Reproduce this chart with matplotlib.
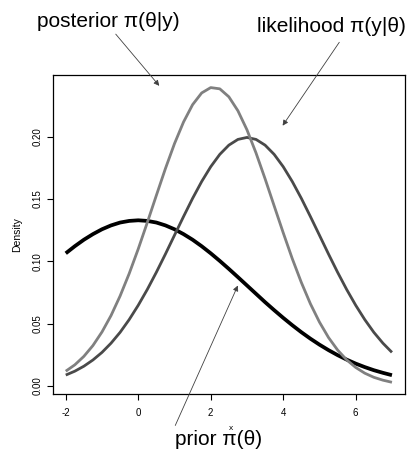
import matplotlib
matplotlib.use("Agg")
import matplotlib.pyplot as plt

plt.rcParams['font.family'] = ['Liberation Sans', 'DejaVu Sans']

# theta grid and the three density curves
theta = [-2.0, -1.75, -1.5, -1.25, -1.0, -0.75, -0.5, -0.25, 0.0, 0.25, 0.5, 0.75,
         1.0, 1.25, 1.5, 1.75, 2.0, 2.25, 2.5, 2.75, 3.0, 3.25, 3.5, 3.75,
         4.0, 4.25, 4.5, 4.75, 5.0, 5.25, 5.5, 5.75, 6.0, 6.25, 6.5, 6.75, 7.0]

prior = [0.1065, 0.1122, 0.1174, 0.1219, 0.1258, 0.1289, 0.1312, 0.1325, 0.1330,
         0.1325, 0.1312, 0.1289, 0.1258, 0.1219, 0.1174, 0.1122, 0.1065, 0.1004,
         0.0940, 0.0874, 0.0807, 0.0740, 0.0673, 0.0609, 0.0547, 0.0488, 0.0432,
         0.0380, 0.0332, 0.0288, 0.0248, 0.0212, 0.0180, 0.0152, 0.0127, 0.0106, 0.0087]

likelihood = [0.0088, 0.0119, 0.0159, 0.0209, 0.0270, 0.0344, 0.0431, 0.0533, 0.0648,
              0.0775, 0.0913, 0.1059, 0.1210, 0.1360, 0.1506, 0.1641, 0.1760, 0.1859,
              0.1933, 0.1979, 0.1995, 0.1979, 0.1933, 0.1859, 0.1760, 0.1641, 0.1506,
              0.1360, 0.1210, 0.1059, 0.0913, 0.0775, 0.0648, 0.0533, 0.0431, 0.0344, 0.0270]

posterior = [0.0119, 0.0170, 0.0238, 0.0325, 0.0434, 0.0566, 0.0723, 0.0902, 0.1100,
             0.1312, 0.1530, 0.1745, 0.1945, 0.2119, 0.2258, 0.2352, 0.2395, 0.2385,
             0.2321, 0.2209, 0.2056, 0.1870, 0.1663, 0.1446, 0.1230, 0.1022, 0.0831,
             0.0660, 0.0513, 0.0389, 0.0289, 0.0210, 0.0149, 0.0103, 0.0070, 0.0047, 0.0030]

fig = plt.figure(figsize=(4.09, 4.57), dpi=100)
W, H = 409.0, 457.0
ax = fig.add_axes([52.7 / W, 1 - 394 / H, (405 - 52.7) / W, (394 - 75) / H])

ax.plot(theta, prior, color='black', lw=2.7, solid_capstyle='butt')
ax.plot(theta, likelihood, color='#4a4a4a', lw=2.0, solid_capstyle='butt')
ax.plot(theta, posterior, color='#808080', lw=2.0, solid_capstyle='butt')

ax.set_xlim(-2.36, 7.36)
ax.set_ylim(-0.0064, 0.2496)
ax.set_xticks([-2, 0, 2, 4, 6])
ax.set_xticklabels(['-2', '0', '2', '4', '6'])
ax.set_yticks([0.0, 0.05, 0.10, 0.15, 0.20])
ax.set_yticklabels(['0.00', '0.05', '0.10', '0.15', '0.20'], rotation=90, va='center')
ax.tick_params(axis='both', direction='out', length=4, width=0.8, labelsize=7)
ax.tick_params(axis='x', pad=6)
ax.tick_params(axis='y', pad=3)
for s in ax.spines.values():
    s.set_linewidth(0.9)
ax.set_ylabel('Density', fontsize=7.5, labelpad=8)

# arrows (data coords, pointing at the curves)
arrow = dict(arrowstyle='-|>', color='#404040', lw=0.6, mutation_scale=8)
ax.annotate('', xy=(0.63, 0.2392), xytext=(-0.67, 0.2841), arrowprops=arrow,
            annotation_clip=False)
ax.annotate('', xy=(3.94, 0.2071), xytext=(5.59, 0.2777), arrowprops=arrow,
            annotation_clip=False)
ax.annotate('', xy=(2.78, 0.0827), xytext=(0.99, -0.0337), arrowprops=arrow,
            annotation_clip=False)

fig.text(37 / W, 1 - 27 / H, 'posterior π(θ|y)', fontsize=15, va='baseline', ha='left')
fig.text(257 / W, 1 - 32 / H, 'likelihood π(y|θ)', fontsize=15, va='baseline', ha='left')
fig.text(175 / W, 1 - 445 / H, 'prior π(θ)', fontsize=15, va='baseline', ha='left')
fig.text(231 / W, 1 - 429 / H, 'x', fontsize=6, va='center', ha='center')

fig.savefig('out.png', dpi=100)
